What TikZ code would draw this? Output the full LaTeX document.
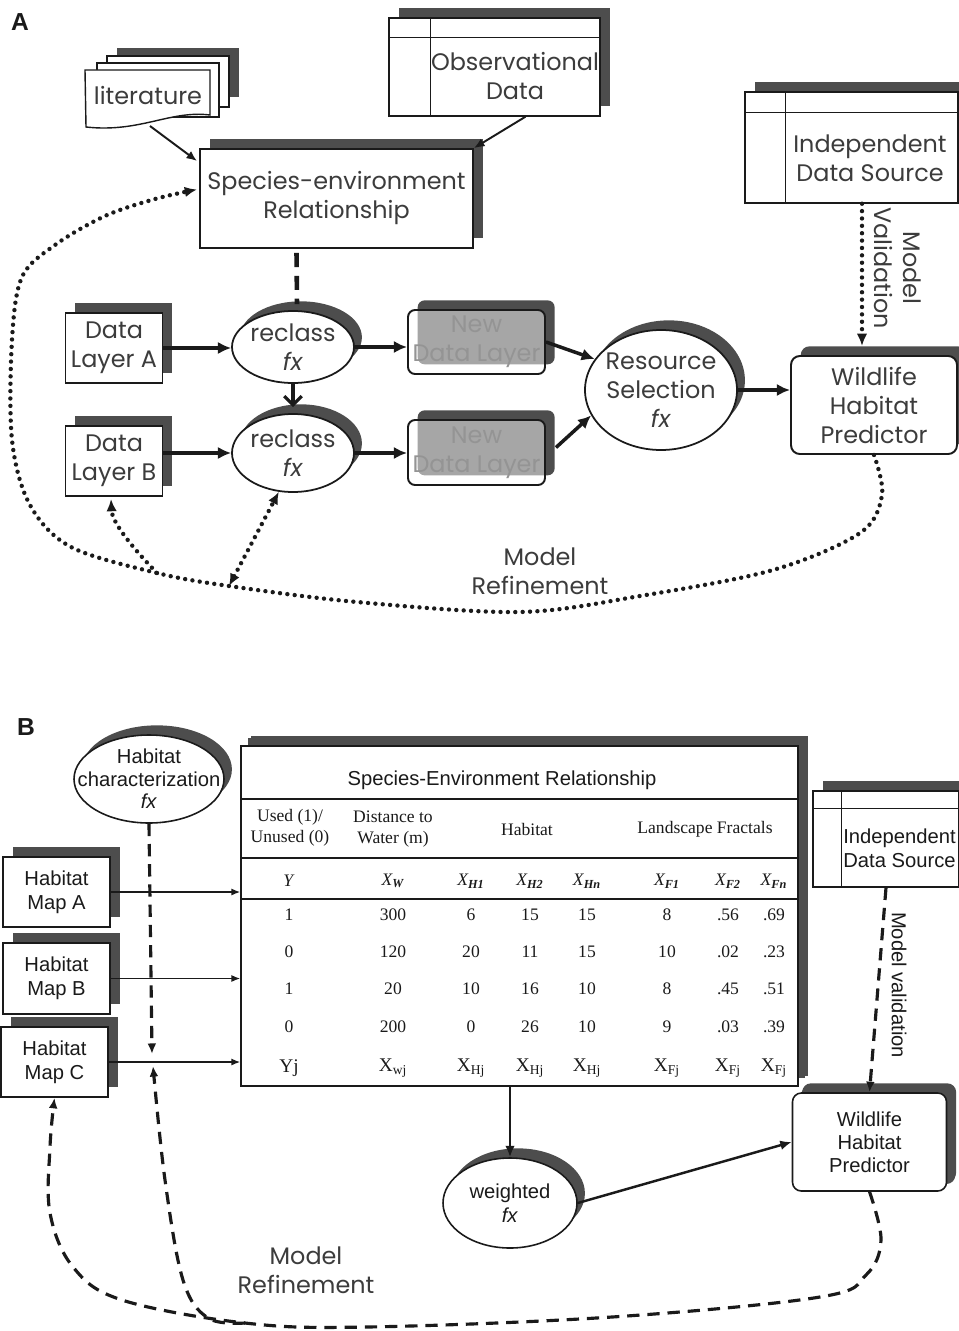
\documentclass[tikz,border=0pt]{standalone}
\usepackage{fontspec}
\setmainfont{Liberation Sans}
\newfontfamily\gothic{Poppins}
\newfontfamily\tms{Liberation Serif}
\usetikzlibrary{shapes.geometric,shadows,arrows.meta,calc}
\newcommand\pxl[1]{#1*0.02cm}
\newcommand\Xit[1]{\textit{X}\kern-0.3pt\textsubscript{\bfseries\itshape #1}}
\newcommand\Xup[1]{X\textsubscript{#1}}
\definecolor{shad}{HTML}{4D4D4D}
\definecolor{ink}{HTML}{1A1A1A}
\tikzset{
  sh/.style={general shadow={shadow xshift=5.5pt, shadow yshift=5.5pt, fill=shad, fill opacity=1}},
  she/.style={general shadow={shadow xshift=4.5pt, shadow yshift=5.5pt, fill=shad, fill opacity=1}},
  fA/.style={font=\gothic\fontsize{13.6pt}{16.5pt}\selectfont, text=ink!85, align=center},
  fB/.style={font=\fontsize{11.5pt}{13.8pt}\selectfont, text=ink, align=center},
  fT/.style={font=\tms\fontsize{10pt}{12pt}\selectfont, text=ink, align=center},
  fL/.style={font=\tms\fontsize{11pt}{12pt}\selectfont, text=ink, align=center},
  boxA/.style={rectangle, draw=ink, line width=1.1pt, fill=white, sh, inner sep=0pt},
  boxB/.style={rectangle, draw=ink, line width=0.9pt, fill=white, sh, inner sep=0pt},
  ellA/.style={ellipse, draw=ink, line width=1pt, fill=white, she, inner sep=0pt},
  ndl/.style={rectangle, rounded corners=4pt, draw=ink, line width=1.1pt, fill=white, fill opacity=0.5, text opacity=1, sh, inner sep=0pt},
  fN/.style={font=\gothic\fontsize{13.6pt}{16.5pt}\selectfont, text=black!42, align=center},
  arrA/.style={draw=ink, line width=2pt, -{Latex[length=7.5pt,width=7pt]}},
  arrT/.style={draw=ink, line width=1.1pt, -{Latex[length=6pt,width=5pt]}},
  arrB/.style={draw=ink, line width=0.8pt, -{Latex[length=5pt,width=4pt]}},
  arrM/.style={draw=ink, line width=1.4pt, -{Latex[length=6.5pt,width=5.5pt]}},
  dotA/.style={draw=ink, line width=2.5pt, line cap=round, dash pattern=on 0pt off 4.2pt},
  dashB/.style={draw=ink, line width=1.8pt, dash pattern=on 7pt off 4.5pt},
  tline/.style={draw=ink, line width=0.8pt},
}
\begin{document}
\begin{tikzpicture}[x=0.02cm, y=-0.02cm]
\fill[white] (0,0) rectangle (959,1331);
\useasboundingbox (0,0) rectangle (959,1331);

% ================= Panel A =================
\node[font=\bfseries\fontsize{14pt}{16pt}\selectfont, text=ink] (labA) at (20,22) {A};

% literature stack
\fill[shad] (117,48) rectangle (239,97);
\draw[ink, line width=0.8pt, fill=white] (107,56) rectangle (229,107);
\draw[ink, line width=0.8pt, fill=white] (97,63) rectangle (219,117);
\draw[ink, line width=0.8pt, fill=white] (85,70) -- (210,70) -- (210,115)
   .. controls (170,110) and (140,133) .. (86,127) -- cycle;
\node[fA] (lit) at (148,96) {literature};
\coordinate (litB) at (150,126);

% Species-environment relationship
\node[boxA, minimum width=\pxl{273}, minimum height=\pxl{99}, fA] (ser) at (336.5,198.5) {Species-environment\\Relationship};

% Observational data
\node[boxB, line width=0.8pt, minimum width=\pxl{211}, minimum height=\pxl{98}] (obs) at (494.5,67) {};
\draw[ink, line width=0.8pt] ($(obs.north west)+(0,20)$) -- ($(obs.north east)+(0,20)$);
\draw[ink, line width=0.8pt] ($(obs.north west)+(42,0)$) -- ($(obs.south west)+(42,0)$);
\node[fA] (obsT) at (515,76) {Observational\\Data};

% Independent data source (A)
\node[boxB, line width=0.8pt, minimum width=\pxl{213}, minimum height=\pxl{111}] (indA) at (851.5,147.5) {};
\draw[ink, line width=0.8pt] ($(indA.north west)+(0,21)$) -- ($(indA.north east)+(0,21)$);
\draw[ink, line width=0.8pt] ($(indA.north west)+(41,0)$) -- ($(indA.south west)+(41,0)$);
\node[fA] (indAT) at (870,158) {Independent\\Data Source};

% data layers
\node[boxA, minimum width=\pxl{97}, minimum height=\pxl{70}, fA] (dla) at (114,348) {Data\\Layer A};
\node[boxA, minimum width=\pxl{97}, minimum height=\pxl{70}, fA] (dlb) at (114,461) {Data\\Layer B};

% reclass
\node[ellA, minimum width=\pxl{122}, minimum height=\pxl{72}, label={[fA]center:{reclass\\\textit{fx}}}] (recA) at (293,347) {};
\node[ellA, minimum width=\pxl{122}, minimum height=\pxl{78}, label={[fA]center:{reclass\\\textit{fx}}}] (recB) at (293,453) {};

% new data layers
\node[ndl, minimum width=\pxl{137}, minimum height=\pxl{64}, label={[fN]center:{New\\Data Layer}}] (ndlA) at (476.5,342) {};
\node[ndl, minimum width=\pxl{137}, minimum height=\pxl{65}, label={[fN]center:{New\\Data Layer}}] (ndlB) at (476.5,452.5) {};

% resource selection
\node[ellA, minimum width=\pxl{152}, minimum height=\pxl{120}, label={[fA]center:{Resource\\Selection\\\textit{fx}}}] (rs) at (661,390) {};

% wildlife habitat predictor (A)
\node[boxA, rounded corners=5pt, minimum width=\pxl{166}, minimum height=\pxl{98}, fA] (whp) at (874,405) {Wildlife\\Habitat\\Predictor};

% connectors A
\draw[arrT] (litB) -- ($(ser.north west)+(-2,13)$);
\coordinate (obsB) at ($(obs.south)+(31,0)$);
\draw[arrT] (obsB) -- (ser.north east);
\draw[ink, line width=2.6pt, dash pattern=on 8pt off 5pt] ($(ser.south)+(-40,4)$) -- ($(recA.north)+(4,-6)$);
\draw[arrA] (dla.east) -- (dla.east -| recA.west);
\draw[arrA] (dlb.east |- recB.west) -- (recB.west);
\draw[draw=ink, line width=1.8pt, -{Straight Barb[length=5pt,width=10pt]}] (recA.south) -- ($(recB.north)+(0,-6)$);
\draw[arrA] (recA.east) -- (recA.east -| ndlA.west);
\draw[arrA] (recB.east) -- (recB.east -| ndlB.west);
\draw[arrA] (ndlA.east) -- (rs.155);
\draw[arrA] ($(ndlB.east)+(10,-5)$) -- (rs.200);
\draw[arrA] (rs.east) -- (rs.east -| whp.west);
\coordinate (vA) at ($(indA.south)+(10.5,0)$);
\coordinate (vB) at ($(vA |- whp.north)+(0,-9)$);
\draw[dotA, -{Latex[length=7pt,width=6pt]}] (vA) -- (vB);
\node[fA, rotate=-90] (mv) at (898,268) {Model\\Validation};

% model refinement loop (A)
\coordinate (serIn) at ($(ser.west)+(-2,-9)$);
\coordinate (jB) at (229,586);
\coordinate (jL) at (157,573);
\draw[dotA, -{Latex[length=7pt,width=6pt]}] plot[smooth, tension=0.55] coordinates {(whp.south) (882,495) (860,533) (773,570) (640,596) (520,612) (357,602) (jB) (jL) (71,547) (30,505) (12,440) (12,340) (22,277) (55,245) (105,216) (155,199) (serIn)};
\draw[dotA, {Latex[length=7pt,width=6pt]}-{Latex[length=7pt,width=6pt]}] (jB) -- (recB.250);
\draw[dotA, -{Latex[length=7pt,width=6pt]}] (jL) .. controls (125,540) and (112,520) .. ($(dlb.south)+(-3,2)$);
\node[fA] (mrA) at (540,571) {Model\\Refinement};

% ================= Panel B =================
\node[font=\bfseries\fontsize{14pt}{16pt}\selectfont, text=ink] (labB) at (26,727) {B};

\node[ellA, line width=0.9pt, minimum width=\pxl{150}, minimum height=\pxl{88}, label={[fB, font=\fontsize{11.5pt}{12.8pt}\selectfont]center:{Habitat\\characterization\\\textit{fx}}}] (hce) at (149,779) {};

\node[boxB, minimum width=\pxl{107}, minimum height=\pxl{70}, fB] (mapA) at (56.5,892) {Habitat\\Map A};
\node[boxB, minimum width=\pxl{107}, minimum height=\pxl{71}, fB] (mapB) at (56.5,978.5) {Habitat\\Map B};
\node[boxB, minimum width=\pxl{107}, minimum height=\pxl{70}, fB] (mapC) at (54.5,1062) {Habitat\\Map C};

% table
\node[boxB, general shadow={shadow xshift=4pt, shadow yshift=4.5pt, fill=shad, fill opacity=1}, minimum width=\pxl{557}, minimum height=\pxl{340}] (tbl) at (519.5,916) {};
\draw[tline] (241,799) -- (798,799);
\draw[tline] (241,858) -- (798,858);
\draw[tline] (241,899) -- (798,899);
\node[fB] (tt) at (502,780) {Species-Environment Relationship};
\node[fT] (h1) at (290,828) {Used (1)/\\Unused (0)};
\node[fT] (h2) at (393,829) {Distance to\\Water (m)};
\node[fT] (h3) at (527,829) {Habitat};
\node[fT] (h4) at (705,829) {Landscape Fractals};
\node[fT] (s1) at (289,881) {\textit{Y}};
\node[fT] (s2) at (393,881) {\Xit{W}};
\node[fT] (s3) at (471,881) {\Xit{H1}};
\node[fT] (s4) at (530,881) {\Xit{H2}};
\node[fT] (s5) at (587,881) {\Xit{Hn}};
\node[fT] (s6) at (667,881) {\Xit{F1}};
\node[fT] (s7) at (728,881) {\Xit{F2}};
\node[fT] (s8) at (774,881) {\Xit{Fn}};
\foreach \xx/\v [count=\c] in {289/1,393/300,471/6,530/15,587/15,667/8,728/.56,774/.69}
  {\node[fT] (ra\c) at (\xx,915) {\v};}
\foreach \xx/\v [count=\c] in {289/0,393/120,471/20,530/11,587/15,667/10,728/.02,774/.23}
  {\node[fT] (rb\c) at (\xx,952) {\v};}
\foreach \xx/\v [count=\c] in {289/1,393/20,471/10,530/16,587/10,667/8,728/.45,774/.51}
  {\node[fT] (rc\c) at (\xx,989) {\v};}
\foreach \xx/\v [count=\c] in {289/0,393/200,471/0,530/26,587/10,667/9,728/.03,774/.39}
  {\node[fT] (rd\c) at (\xx,1027) {\v};}
\node[fL] (e1) at (289,1068) {Yj};
\node[fL] (e2) at (393,1068) {\Xup{wj}};
\node[fL] (e3) at (471,1068) {\Xup{Hj}};
\node[fL] (e4) at (530,1068) {\Xup{Hj}};
\node[fL] (e5) at (587,1068) {\Xup{Hj}};
\node[fL] (e6) at (667,1068) {\Xup{Fj}};
\node[fL] (e7) at (728,1068) {\Xup{Fj}};
\node[fL] (e8) at (774,1068) {\Xup{Fj}};

% independent data source (B)
\node[boxB, line width=0.8pt, general shadow={shadow xshift=5.5pt, shadow yshift=4.5pt, fill=shad, fill opacity=1}, minimum width=\pxl{146}, minimum height=\pxl{96}] (indB) at (886,839) {};
\draw[ink, line width=0.8pt] ($(indB.north west)+(0,18)$) -- ($(indB.north east)+(0,18)$);
\draw[ink, line width=0.8pt] ($(indB.north west)+(29,0)$) -- ($(indB.south west)+(29,0)$);
\node[fB, align=left, anchor=west, inner sep=0pt] (indBT) at (843,848) {Independent\\Data Source};

% wildlife habitat predictor (B)
\node[boxB, rounded corners=5pt, general shadow={shadow xshift=5pt, shadow yshift=4pt, fill=shad, fill opacity=1}, minimum width=\pxl{154}, minimum height=\pxl{98}, fB, font=\fontsize{11.5pt}{13pt}\selectfont] (whpB) at (869.5,1142) {Wildlife\\Habitat\\Predictor};

% weighted
\node[ellA, line width=0.9pt, minimum width=\pxl{134}, minimum height=\pxl{90}, label={[fB]center:{weighted\\\textit{fx}}}] (wt) at (510,1203) {};

% connectors B
\draw[arrB] (mapA.east) -- (mapA.east -| tbl.west);
\draw[arrB] (mapB.east) -- (mapB.east -| tbl.west);
\draw[arrB] (mapC.east) -- (mapC.east -| tbl.west);
\coordinate (mcU) at (152,1054);
\coordinate (mcD) at (153,1066);
\draw[dashB, -{Latex[length=6pt,width=5pt]}] (hce.south) -- (mcU);
\draw[arrM] (wt.north |- tbl.south) -- (wt.north);
\draw[arrM] (wt.east) -- (whpB.west);
\draw[dashB, -{Latex[length=6pt,width=5pt]}] (indB.south) -- (whpB.north);
\node[fB, rotate=-90] (mvB) at (899,985) {Model validation};
\coordinate (jn) at (245,1323);
\draw[dashB, -{Latex[length=6pt,width=5pt]}] plot[smooth, tension=0.6] coordinates {(whpB.south) (881,1240) (866,1275) (820,1297) (612,1317) (367,1327) (jn) (122,1300) (73,1267) (50,1213) (50,1147) (mapC.south)};
\draw[dashB, -{Latex[length=6pt,width=5pt]}] plot[smooth, tension=0.6] coordinates {(jn) (208,1318) (183,1280) (165,1180) (mcD)};
\node[fA] (mrB) at (306,1270) {Model\\Refinement};

\end{tikzpicture}
\end{document}
